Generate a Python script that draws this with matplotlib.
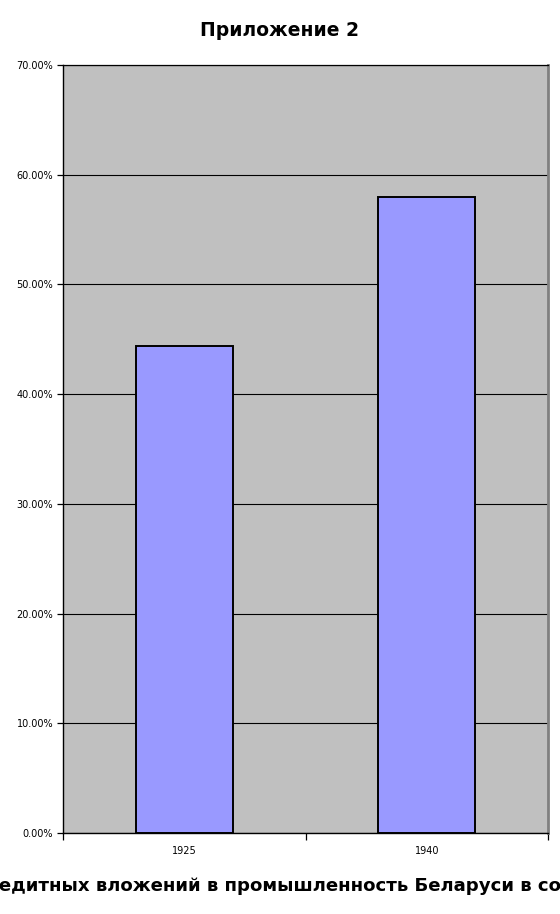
import matplotlib
matplotlib.use("Agg")
import matplotlib.pyplot as plt
from matplotlib.ticker import PercentFormatter

categories = ["1925", "1940"]
values = [44.4, 58.0]
y_ticks = [0, 10, 20, 30, 40, 50, 60, 70]
title = "Приложение 2"
xlabel = "Доля кредитных вложений в промышленность Беларуси в составе СССР"

fig = plt.figure(figsize=(5.6, 9.14), dpi=100)
ax = fig.add_axes([63/560, 81/914, 485/560, 768/914])
ax.set_facecolor("#C0C0C0")

x = list(range(len(categories)))
ax.bar(x, values, width=0.40, color="#9999FF", edgecolor="black", linewidth=1.4, zorder=3)

ax.set_xlim(-0.5, len(categories) - 0.5)
ax.set_ylim(0, 70)
ax.set_yticks(y_ticks)
ax.yaxis.set_major_formatter(PercentFormatter(decimals=2))
ax.yaxis.grid(True, color="black", linewidth=0.8, zorder=1)
ax.set_axisbelow(True)

ax.set_xticks([i - 0.5 for i in range(len(categories) + 1)])
ax.set_xticklabels([])
ax.set_xticks(x, minor=True)
ax.set_xticklabels(categories, minor=True)
ax.tick_params(axis="x", which="minor", length=0, labelsize=7, pad=9)
ax.tick_params(axis="x", which="major", length=5, width=0.9, direction="out")
ax.tick_params(axis="y", length=4, width=0.9, labelsize=7, pad=3)

for s in ["left", "bottom"]:
    ax.spines[s].set_color("black")
    ax.spines[s].set_linewidth(1.0)
ax.spines["top"].set_color("black")
ax.spines["top"].set_linewidth(0.9)
ax.spines["right"].set_color("#808080")
ax.spines["right"].set_linewidth(2.0)

fig.text(0.5, 1 - 30/914, title, ha="center", va="center", fontsize=13.5, fontweight="bold")

# x-axis label, overflowing the figure on both sides as in the reference
fig.canvas.draw()
renderer = fig.canvas.get_renderer()
prefix = "Доля кр"
tmp = fig.text(0, 0, prefix, fontsize=13.1, fontweight="bold")
pw = tmp.get_window_extent(renderer).width
tmp.remove()
fig.text(-pw / 560 - 0.002, 1 - 886/914, xlabel, ha="left", va="center", fontsize=13.1, fontweight="bold")

fig.savefig("out.png", dpi=100)
